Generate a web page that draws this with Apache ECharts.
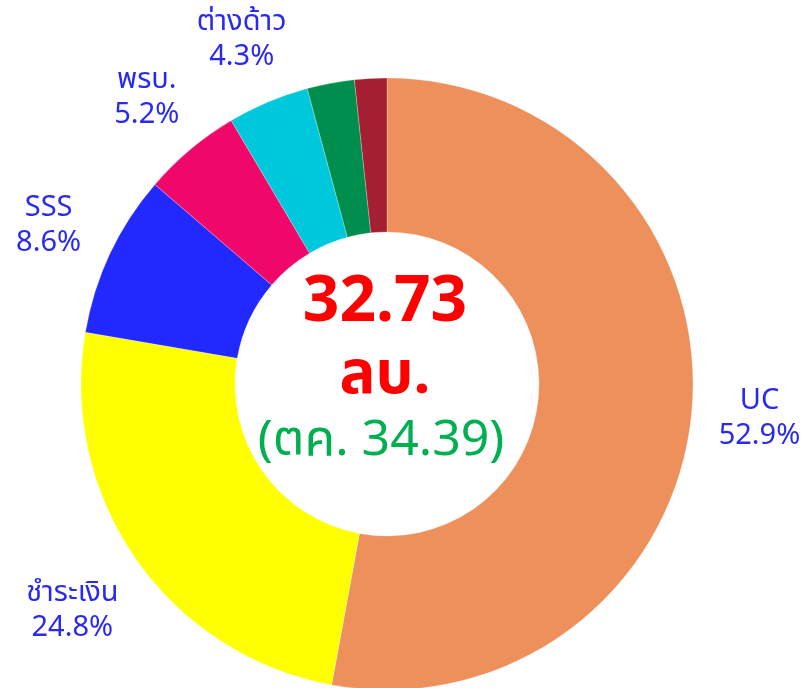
<!DOCTYPE html>
<html>
<head>
<meta charset="utf-8">
<script src="https://cdn.jsdelivr.net/npm/echarts@6/dist/echarts.min.js"></script>
<style>
  html, body { margin: 0; padding: 0; background: #fff; }
  #main { width: 806px; height: 688px; }
</style>
</head>
<body>
<div id="main"></div>
<script>
// share of spending (%), clockwise from 12 o'clock
var names = ['UC', 'ชำระเงิน', 'SSS', 'พรบ.', 'ต่างด้าว', 'อื่น ๆ', 'ประกันสังคมอื่น'];
var values = [52.9, 24.8, 8.6, 5.2, 4.3, 2.5, 1.7];
var colors = ['#ED905C', '#FFFF00', '#2229FF', '#F0076A', '#00C8DC', '#008E4E', '#A51F33'];

var totalNow = '32.73';
var totalPrev = '34.39';

var font = '"Noto Sans", "Noto Sans Thai", sans-serif';

var chart = echarts.init(document.getElementById('main'));

var pieData = [];
var labelData = [];
for (var i = 0; i < names.length; i++) {
    pieData.push({ name: names[i], value: values[i], itemStyle: { color: colors[i] } });
    labelData.push({
        name: names[i],
        value: values[i],
        label: { show: values[i] >= 3 }
    });
}

var option = {
    backgroundColor: '#fff',
    animation: false,
    graphic: [{
        type: 'text',
        x: 385, y: 303,
        style: {
            text: totalNow, fill: '#FF0000', font: 'bold 64px ' + font,
            align: 'center', verticalAlign: 'middle'
        }
    }, {
        type: 'text',
        x: 385, y: 376,
        style: {
            text: 'ลบ.', fill: '#FF0000', font: 'bold 60px ' + font,
            align: 'center', verticalAlign: 'middle'
        }
    }, {
        type: 'text',
        x: 381, y: 441,
        style: {
            text: '(ตค. ' + totalPrev + ')', fill: '#00B050', font: '50px ' + font,
            align: 'center', verticalAlign: 'middle'
        }
    }],
    series: [{
        type: 'pie',
        center: [387, 384],
        radius: [152, 306],
        startAngle: 90,
        clockwise: true,
        silent: true,
        label: { show: false },
        labelLine: { show: false },
        itemStyle: { borderColor: 'rgba(255,255,255,0.5)', borderWidth: 0.5 },
        data: pieData
    }, {
        // transparent ring used only to place the category labels
        type: 'pie',
        center: [387, 384],
        radius: [306, 436],
        startAngle: 90,
        clockwise: true,
        silent: true,
        itemStyle: { color: 'rgba(0,0,0,0)' },
        label: {
            show: true,
            position: 'inside',
            formatter: '{b}\n{c}%',
            color: '#2A2AEF',
            fontFamily: font,
            fontSize: 29,
            lineHeight: 35,
            align: 'center'
        },
        labelLayout: function (params) {
            // the lower-left label sits a little further out in the original
            if (params.dataIndex === 1) {
                return { dx: -8, dy: 12 };
            }
            return {};
        },
        labelLine: { show: false },
        data: labelData
    }]
};

chart.setOption(option);
</script>
</body>
</html>
